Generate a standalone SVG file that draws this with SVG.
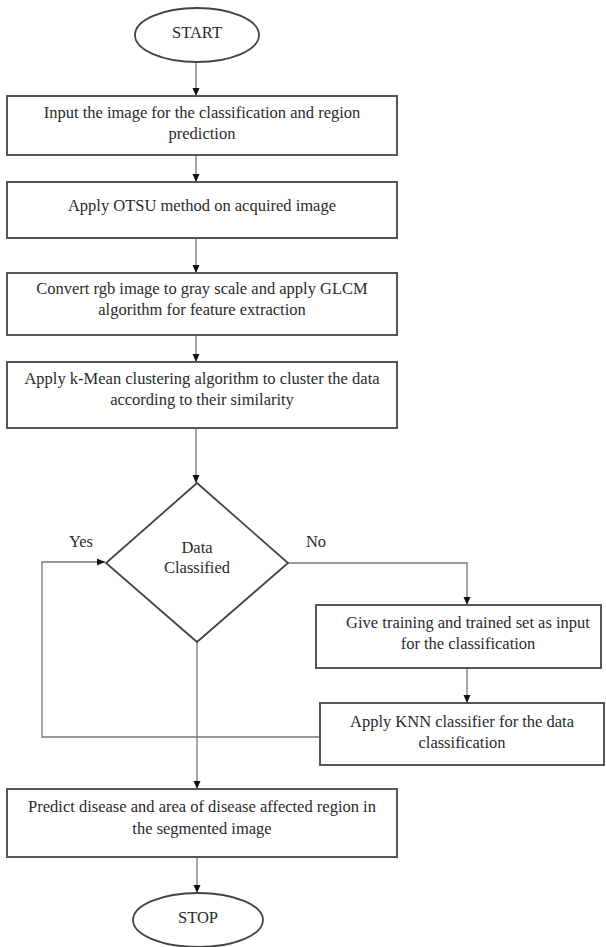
<svg xmlns="http://www.w3.org/2000/svg" width="606" height="947" viewBox="0 0 606 947">
<style>
.box{fill:#fff;stroke:#555;stroke-width:2}
.term{fill:#fff;stroke:#444;stroke-width:1.8}
.dia{fill:#fff;stroke:#444;stroke-width:1.8}
.con{fill:none;stroke:#777;stroke-width:1.3}
text{font-family:"Liberation Serif","Times New Roman",serif;font-size:16.5px;fill:#2a2a2a;text-anchor:middle}
</style>
<defs>
<marker id="ah" markerUnits="userSpaceOnUse" markerWidth="8" markerHeight="8" viewBox="0 0 8 8" refX="8" refY="4" orient="auto">
<path d="M0,0.5 L8,4 L0,7.5 Z" fill="#111"/>
</marker>
</defs>
<rect width="606" height="947" fill="#fff"/>
<g id="connectors">
<line class="con" x1="196" y1="63" x2="196" y2="96" marker-end="url(#ah)"/>
<line class="con" x1="196" y1="155" x2="196" y2="182" marker-end="url(#ah)"/>
<line class="con" x1="196" y1="238" x2="196" y2="273" marker-end="url(#ah)"/>
<line class="con" x1="196" y1="335" x2="196" y2="362" marker-end="url(#ah)"/>
<line class="con" x1="196" y1="428" x2="196" y2="483" marker-end="url(#ah)"/>
<polyline class="con" points="288,563 467,563 467,605" marker-end="url(#ah)"/>
<line class="con" x1="467" y1="668" x2="467" y2="703" marker-end="url(#ah)"/>
<polyline class="con" points="320,737 42,737 42,562 105,562" marker-end="url(#ah)"/>
<line class="con" x1="197" y1="642" x2="197" y2="789" marker-end="url(#ah)"/>
<line class="con" x1="197" y1="857" x2="197" y2="893" marker-end="url(#ah)"/>
</g>
<g id="start">
<ellipse class="term" cx="197" cy="35" rx="62" ry="27"/>
<text x="197" y="38">START</text>
</g>
<g id="input">
<rect class="box" x="7" y="96" width="390" height="59"/>
<text x="202" y="118">Input the image for the classification and region</text>
<text x="202" y="139">prediction</text>
</g>
<g id="otsu">
<rect class="box" x="7" y="182" width="390" height="56"/>
<text x="202" y="211">Apply OTSU method on acquired image</text>
</g>
<g id="glcm">
<rect class="box" x="7" y="273" width="390" height="62"/>
<text x="202" y="294">Convert rgb image to gray scale and apply GLCM</text>
<text x="202" y="315">algorithm for feature extraction</text>
</g>
<g id="kmean">
<rect class="box" x="7" y="362" width="390" height="66"/>
<text x="202" y="384">Apply k-Mean clustering algorithm to cluster the data</text>
<text x="202" y="405">according to their similarity</text>
</g>
<g id="decision">
<polygon class="dia" points="197,483 288,563 197,642 106,563"/>
<text x="197" y="553">Data</text>
<text x="197" y="573">Classified</text>
</g>
<g id="labels">
<text x="81" y="547">Yes</text>
<text x="316" y="547">No</text>
</g>
<g id="training">
<rect class="box" x="316" y="605" width="285" height="63"/>
<text x="468" y="628">Give training and trained set as input</text>
<text x="468" y="649">for the classification</text>
</g>
<g id="knn">
<rect class="box" x="320" y="703" width="284" height="62"/>
<text x="462" y="727">Apply KNN classifier for the data</text>
<text x="462" y="748">classification</text>
</g>
<g id="predict">
<rect class="box" x="7" y="789" width="390" height="68"/>
<text x="202" y="812">Predict disease and area of disease affected region in</text>
<text x="202" y="834">the segmented image</text>
</g>
<g id="stop">
<ellipse class="term" cx="198" cy="920" rx="65" ry="27"/>
<text x="198" y="923">STOP</text>
</g>
</svg>
